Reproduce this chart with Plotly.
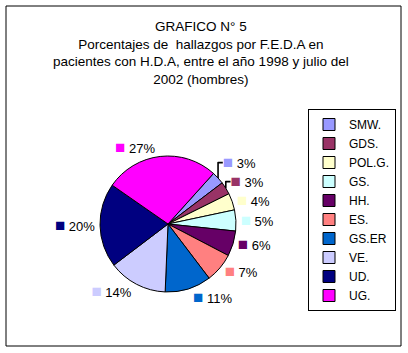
import plotly.graph_objects as go

labels = ["SMW.", "GDS.", "POL.G.", "GS.", "HH.", "ES.", "GS.ER", "VE.", "UD.", "UG."]
values = [3, 3, 4, 5, 6, 7, 11, 14, 20, 27]
colors = ["#9999FF", "#993366", "#FFFFCC", "#CCFFFF", "#660066",
          "#FF8080", "#0066CC", "#CCCCFF", "#000080", "#FF00FF"]
title_text = ("GRAFICO N° 5<br>Porcentajes de  hallazgos por F.E.D.A en<br>"
              "pacientes con H.D.A, entre el año 1998 y julio del<br>2002 (hombres)")

W, H = 408, 353
cx, cy, r = 168, 224, 68

fig = go.Figure(go.Pie(
    labels=labels, values=values, sort=False, direction="clockwise", rotation=42,
    marker=dict(colors=colors, line=dict(color="black", width=1)),
    textposition="outside",
    texttemplate="<span style='color:%{color};font-size:17px'>■</span> %{percent:.0%}",
    textfont=dict(family="Liberation Sans, Arial", size=13, color="black"),
    domain=dict(x=[(cx - r) / W, (cx + r) / W], y=[(H - cy - r) / H, (H - cy + r) / H]),
    showlegend=True,
))

fig.update_layout(
    width=W, height=H, margin=dict(l=0, r=0, t=0, b=0),
    paper_bgcolor="white", plot_bgcolor="white",
    font=dict(family="Liberation Sans, Arial", size=12, color="black"),
    legend=dict(x=396 / W, y=(H - 109) / H, xanchor="right", yanchor="top",
                bordercolor="black", borderwidth=1, bgcolor="white",
                itemwidth=30, font=dict(size=12)),
    annotations=[dict(text=title_text, x=201 / W, y=(H - 17) / H, xref="paper", yref="paper",
                      xanchor="center", yanchor="top", showarrow=False,
                      font=dict(size=13.5, color="black"), align="center")],
    shapes=[dict(type="rect", xref="paper", yref="paper",
                 x0=6 / W, x1=401 / W, y0=(H - 346) / H, y1=(H - 6) / H,
                 line=dict(color="black", width=1))],
)

fig.write_html("out.html")
